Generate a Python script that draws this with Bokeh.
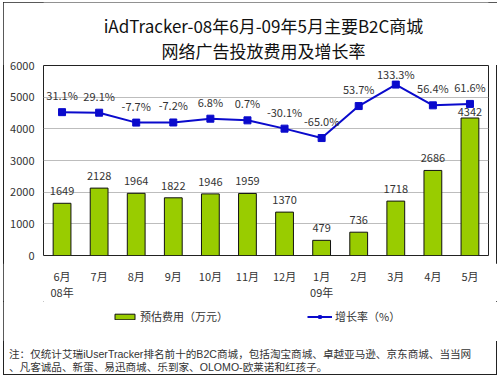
from bokeh.plotting import figure
from bokeh.layouts import column
from bokeh.models import (Range1d, Legend, LegendItem, ColumnDataSource,
                          FactorRange, Div)
from bokeh.core.properties import value
from bokeh.embed import file_html
from bokeh.resources import INLINE

# ---------------- data ----------------
months = ["6月", "7月", "8月", "9月", "10月", "11月", "12月", "1月", "2月", "3月", "4月", "5月"]
year_months = ["6月", "1月"]
year_texts = ["08年", "09年"]
spend = [1649, 2128, 1964, 1822, 1946, 1959, 1370, 479, 736, 1718, 2686, 4342]
growth = [31.1, 29.1, -7.7, -7.2, 6.8, 0.7, -30.1, -65.0, 53.7, 133.3, 56.4, 61.6]
y_ticks = [0, 1000, 2000, 3000, 4000, 5000, 6000]
titles = ["iAdTracker-08年6月-09年5月主要B2C商城", "网络广告投放费用及增长率"]
legend_bar = "预估费用（万元）"
legend_line = "增长率（%）"
notes = ["注：仅统计艾瑞iUserTracker排名前十的B2C商城，包括淘宝商城、卓越亚马逊、京东商城、当当网",
         "、凡客诚品、新蛋、易迅商城、乐到家、OLOMO-欧莱诺和红孩子。"]

FONT = "Noto Sans CJK SC"
W = 494
BL, BR = 40, 9
TOP_H, LAB_H, LEG_H, NOTE_H = 63, 38, 40, 34
OVERLAP = 10
MAIN_BT, FH, MAIN_BB = 10, 190, 8
BAR_C = "#99CC00"
LINE_C = "#0A0ACC"
TXT_C = "#333333"

y_lo, y_hi = 0, 6000
g_lo, g_hi = -500.8, 204.2

# label offsets (pixels) computed from the scales
g_px = [FH * (g - g_lo) / (g_hi - g_lo) for g in growth]
g_off = [-(min(py + 17, FH - 8.5) - py) for py in g_px]
s_off = []
for v, gp in zip(spend, g_px):
    bp = FH * (v - y_lo) / (y_hi - y_lo)
    s_off.append(-6.5 if abs(bp + 12 - gp) < 8 else -12)

src = ColumnDataSource(dict(
    m=months, spend=spend, spend_txt=[str(v) for v in spend], s_off=s_off,
    growth=growth, growth_txt=["%.1f%%" % g for g in growth], g_off=g_off,
))

xr = FactorRange(factors=months)


def blank_fig(h, x_range):
    f = figure(width=W, height=h, x_range=x_range, y_range=Range1d(h, 0),
               x_axis_type=None, y_axis_type=None, output_backend="svg",
               toolbar_location=None, min_border_left=BL, min_border_right=BR,
               min_border_top=0, min_border_bottom=0, title=None)
    f.outline_line_color = None
    f.grid.grid_line_color = None
    return f


# ---------------- titles ----------------
top = blank_fig(TOP_H, Range1d(BL, W - BR))
top.text(x=[260, 260], y=[23, 48], text=titles, text_align="center",
         text_baseline="middle", text_font=value(FONT), text_font_size="17px",
         text_color="#111111")

# ---------------- main chart ----------------
p = figure(width=W, height=MAIN_BT + FH + MAIN_BB, x_range=xr,
           y_range=Range1d(y_lo, y_hi), output_backend="svg", toolbar_location=None,
           min_border_left=BL, min_border_right=BR, min_border_top=MAIN_BT,
           min_border_bottom=MAIN_BB, title=None, margin=(-OVERLAP, 0, 0, 0))
p.extra_y_ranges = {"g": Range1d(g_lo, g_hi)}
p.border_fill_alpha = 0
p.background_fill_color = "white"
p.outline_line_color = "#222222"
p.outline_line_width = 1
p.xaxis.visible = False

p.xgrid.grid_line_color = None
p.ygrid.grid_line_color = "#BDBDBD"
p.ygrid.ticker = y_ticks

p.yaxis.ticker = y_ticks
p.yaxis.axis_line_color = None
p.yaxis.major_tick_line_color = None
p.yaxis.minor_tick_line_color = None
p.yaxis.major_label_text_font = FONT
p.yaxis.major_label_text_font_size = "11px"
p.yaxis.major_label_text_color = TXT_C
p.yaxis.major_label_standoff = 3

bars = p.vbar(x="m", top="spend", width=0.48, source=src,
              fill_color=BAR_C, line_color="#111111", line_width=1)
p.text(x="m", y="spend", text="spend_txt", source=src, text_align="center",
       text_baseline="middle", y_offset="s_off", text_font=value(FONT),
       text_font_size="11px", text_color=TXT_C)

p.line(x="m", y="growth", source=src, y_range_name="g",
       line_color=LINE_C, line_width=2)
p.scatter(x="m", y="growth", source=src, y_range_name="g", marker="square",
          size=7, fill_color=LINE_C, line_color=LINE_C)
p.text(x="m", y="growth", text="growth_txt", source=src, y_range_name="g",
       text_align="center", text_baseline="middle", y_offset="g_off",
       text_font=value(FONT), text_font_size="11px", text_color=TXT_C)

# ---------------- category labels ----------------
lab = blank_fig(LAB_H, xr)
lab.text(x=months, y=[12] * len(months), text=months, text_align="center",
         text_baseline="middle", text_font=value(FONT), text_font_size="11px",
         text_color=TXT_C)
lab.text(x=year_months, y=[28] * len(year_months), text=year_texts, text_align="center",
         text_baseline="middle", text_font=value(FONT), text_font_size="11px",
         text_color=TXT_C)

# ---------------- legend ----------------
leg = blank_fig(LEG_H, Range1d(BL, W - BR))
lb = leg.vbar(x=[-1000], top=[-1000], width=1, fill_color=BAR_C,
              line_color="#111111", line_width=1)
ll = leg.line(x=[-1000, -999], y=[-1000, -1000], line_color=LINE_C, line_width=2)
ls = leg.scatter(x=[-1000], y=[-1000], marker="square", size=7,
                 fill_color=LINE_C, line_color=LINE_C)
legend = Legend(items=[LegendItem(label=legend_bar, renderers=[lb]),
                       LegendItem(label=legend_line, renderers=[ll, ls])],
                location=(69, 17), orientation="horizontal", spacing=79,
                glyph_width=25, glyph_height=7, label_standoff=3,
                label_text_font=FONT, label_text_font_size="11px",
                label_text_color=TXT_C, border_line_color=None,
                background_fill_alpha=0, padding=0, margin=0)
leg.add_layout(legend)

# ---------------- notes ----------------
note_html = "<br>".join(notes)
note_div = Div(text=note_html, width=W, height=NOTE_H, margin=0,
               styles={"font-family": "'Liberation Sans', 'Noto Sans CJK SC'",
                       "font-size": "10.6px", "color": TXT_C,
                       "line-height": "13px", "padding-top": "7px",
                       "padding-left": "6px", "white-space": "nowrap",
                       "box-sizing": "border-box", "overflow": "hidden"})

layout = column(top, p, lab, leg, note_div, spacing=0, margin=(2, 0, 0, 3))
layout.styles = {"outline": "1px solid #222222", "outline-offset": "-1px"}

open("out.html", "w").write(file_html(layout, INLINE))
